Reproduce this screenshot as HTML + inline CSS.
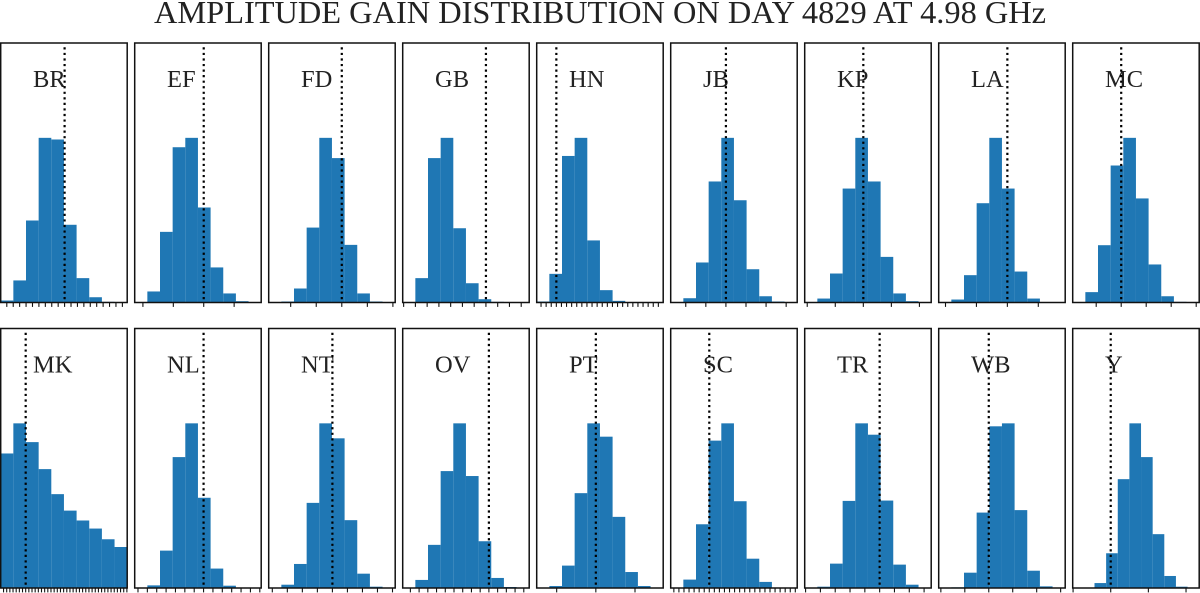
<!DOCTYPE html>
<html lang="en">
<head>
<meta charset="utf-8">
<title>Amplitude gain distribution</title>
<style>
html,body{margin:0;padding:0;background:#fff;}
svg{display:block;}
text{font-family:"Liberation Serif",serif;fill:#222;}
</style>
</head>
<body>
<svg id="chart" xmlns="http://www.w3.org/2000/svg" width="1200" height="593" viewBox="0 0 1200 593">
  <text x="154" y="23" font-size="32" textLength="892" lengthAdjust="spacingAndGlyphs">AMPLITUDE GAIN DISTRIBUTION ON DAY 4829 AT 4.98 GHz</text>
</svg>
<script>
const stations = ["BR","EF","FD","GB","HN","JB","KP","LA","MC","MK","NL","NT","OV","PT","SC","TR","WB","Y"];
const binHeights = [
  [1.2,13.4,49.8,100,99,47.2,14.8,3.2,0.4,0],
  [0,6.7,42.9,94.3,100,57.7,21.3,5.5,0.8,0],
  [0,0.6,8.5,45.5,100,87.7,35,5.5,0.6,0],
  [0,14.8,87.7,100,45.1,11.7,2,0.4,0,0],
  [0.6,17.4,89,100,37.7,7.5,1,0.2,0,0],
  [0,2.6,24.3,73.5,100,62.1,20.2,3.8,0.6,0],
  [0,2.4,17.6,69.2,100,73.5,27.7,5.5,0.8,0],
  [0,1.8,16.6,60.3,100,69.2,18.8,2.4,0,0],
  [0,6.3,34.8,83.2,100,63.2,23.1,3.8,0.4,0],
  [81.7,100,88.6,72.2,57,47,41,36.1,29.6,24.9],
  [0,1.6,22.7,79.5,100,54.8,11.8,1.4,0,0],
  [0,2,14.6,51.7,100,90.9,41.2,8.7,0.8,0],
  [0,4.9,26.2,71,100,68,28.4,6.1,0.6,0],
  [0,1.2,13.6,57.6,100,91.9,43.2,9.7,1.2,0],
  [0,5.1,38.7,89.5,100,52.7,17.8,3.7,0,0],
  [0,0.8,14.8,52.9,100,93.1,53.1,14.2,2,0],
  [0,0.4,9.3,45.8,98.2,100,47.3,10.5,1,0],
  [0,3,21.1,66.1,100,79.5,32.7,7.3,0.8,0]
];
const xMins = [0.801,0.773,0.714,0.646,0.923,0.725,0.791,0.778,0.806,0.921,0.853,0.788,0.506,0.698,0.8475,0.747,0.791,0.798];
const xMaxs = [1.195,1.189,1.209,1.184,1.419,1.355,1.242,1.187,1.312,1.321,1.123,1.209,1.231,1.344,1.3475,1.174,1.319,1.470];
const histMins = [0.801,0.773,0.714,0.646,0.923,0.725,0.791,0.778,0.806,0.921,0.853,0.788,0.506,0.698,0.8475,0.747,0.791,0.852];
const histMaxs = [1.195,1.189,1.209,1.184,1.419,1.355,1.242,1.187,1.312,1.321,1.123,1.209,1.231,1.344,1.3475,1.174,1.319,1.470];
const tickSteps = [0.02,0.1,0.1,0.05,0.02,0.1,0.1,0.1,0.1,0.01,0.02,0.05,0.05,0.2,0.02,0.05,0.1,0.2];
const referenceGains = [1,1,1,1,1,1,1,1,1,1,1,1,1,1,1,1,1,1];
const yLimit = 157.6;
const binCount = 10;

const NS = "http://www.w3.org/2000/svg";
const svg = document.getElementById("chart");

function make(parent, tag, attrs) {
  const el = document.createElementNS(NS, tag);
  for (const k in attrs) el.setAttribute(k, attrs[k]);
  parent.appendChild(el);
  return el;
}

function panelBox(i) {
  const col = i % 9;
  const row = Math.floor(i / 9);
  return { left: 0.7 + 134 * col, top: row === 0 ? 43 : 328.5, width: 126.5, height: 259.5 };
}

function xScale(i, box) {
  return function (v) {
    return box.left + (v - xMins[i]) / (xMaxs[i] - xMins[i]) * box.width;
  };
}

function yScale(box) {
  return function (v) {
    return box.top + box.height - v / yLimit * box.height;
  };
}

stations.forEach(function (name, i) {
  const box = panelBox(i);
  const x = xScale(i, box);
  const y = yScale(box);
  const key = name.toLowerCase();

  const g = make(svg, "g", {});
  
  

  const binWidth = (histMaxs[i] - histMins[i]) / binCount;
  binHeights[i].forEach(function (h, b) {
    const x0 = x(histMins[i] + b * binWidth);
    const x1 = x(histMins[i] + (b + 1) * binWidth);
    const bar = make(g, "rect", {
      x: x0, y: y(h), width: x1 - x0, height: y(0) - y(h), fill: "#1f77b4"
    });
    
    
  });

  const first = Math.ceil((xMins[i] - 1) / tickSteps[i] - 1e-9);
  const last = Math.floor((xMaxs[i] - 1) / tickSteps[i] + 1e-9);
  for (let k = first; k <= last; k++) {
    const tx = x(1 + k * tickSteps[i]);
    const tick = make(g, "line", {
      x1: tx, x2: tx, y1: box.top + box.height, y2: box.top + box.height + 4.4,
      stroke: "#111", "stroke-width": 1.1
    });
    
    
  }

  const label = make(g, "text", {
    x: box.left + 32.3, y: box.top + 44, "font-size": 24.5
  });
  label.textContent = name;
  
  

  const refX = x(referenceGains[i]);
  const ref = make(g, "line", {
    x1: refX, x2: refX, y1: box.top + 4.3, y2: box.top + box.height,
    stroke: "#000", "stroke-width": 2.2, "stroke-dasharray": "2.2 3.35"
  });
  
  

  const frame = make(g, "rect", {
    x: box.left, y: box.top, width: box.width, height: box.height,
    fill: "none", stroke: "#111", "stroke-width": 1.5
  });
  
  
});
</script>
</body>
</html>
